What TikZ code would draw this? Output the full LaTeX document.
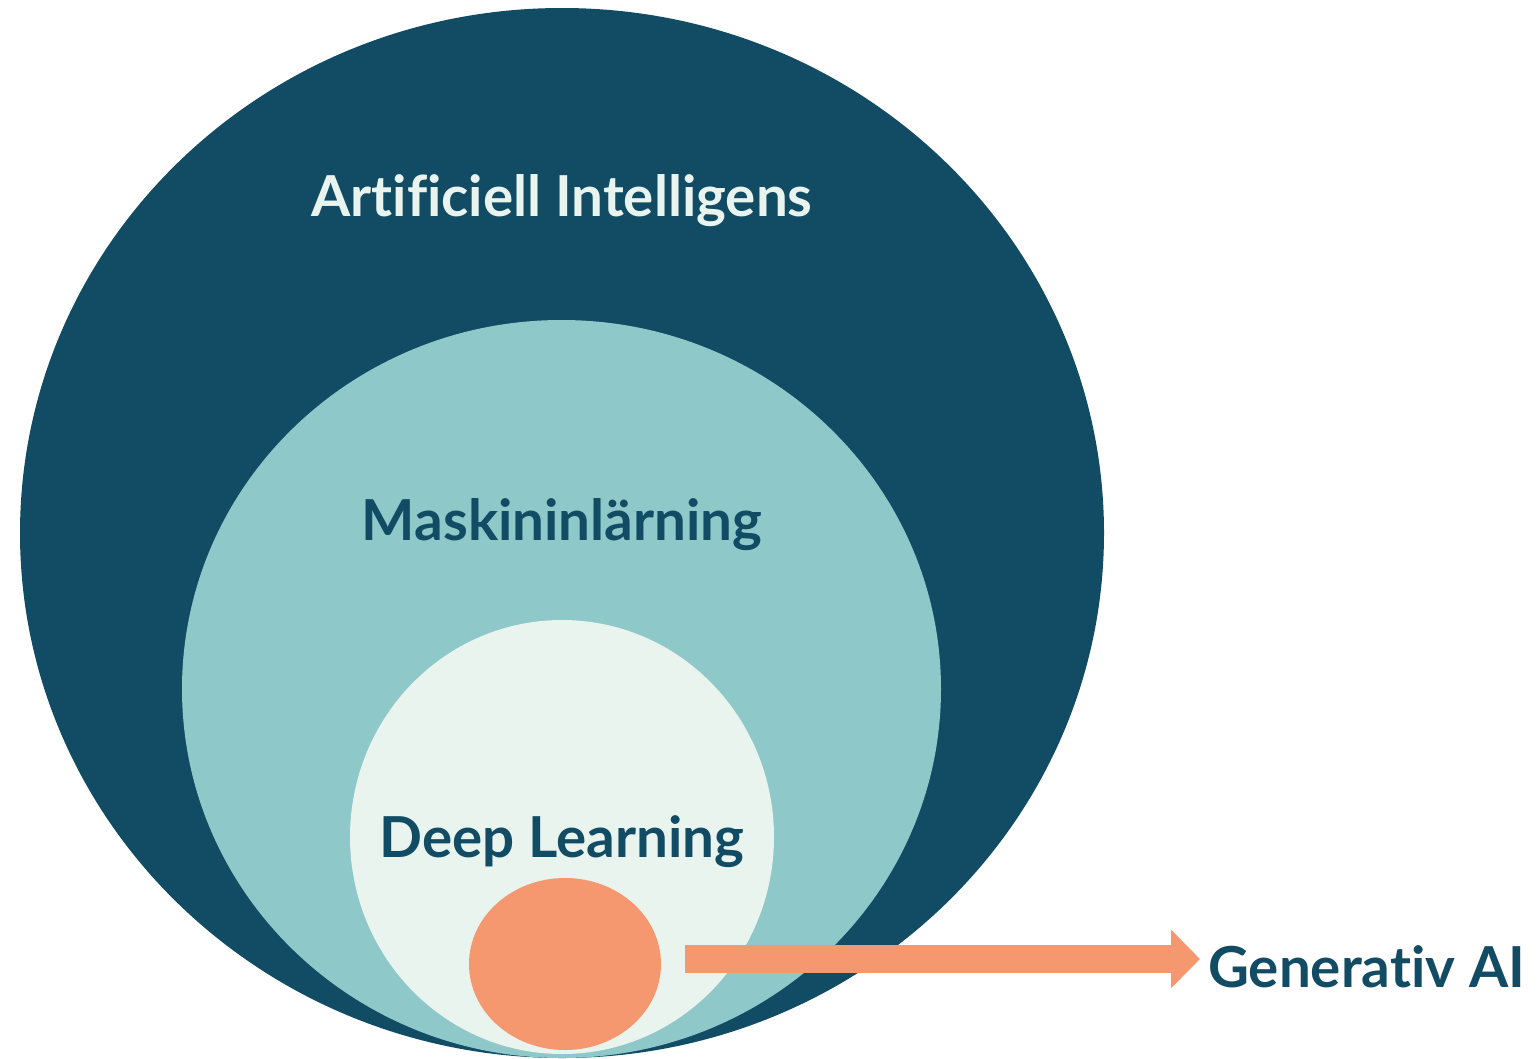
\documentclass[tikz,border=0pt]{standalone}
\usepackage{fontspec}
\setmainfont{Lato}[Ligatures=NoCommon]
\usetikzlibrary{shapes.geometric,arrows.meta}
\definecolor{darkteal}{HTML}{114C64}
\definecolor{midteal}{HTML}{8EC8C8}
\definecolor{paleteal}{HTML}{E9F4EF}
\definecolor{salmon}{HTML}{F59870}
\begin{document}
\begin{tikzpicture}[x=1pt,y=-1pt,
  blob/.style={ellipse, inner sep=0pt, outer sep=0pt, draw=none},
  lbl/.style={font=\fontsize{56.5}{60}\selectfont\bfseries, inner sep=0pt, anchor=base},
  pointer/.style={draw=salmon, line width=28pt, -{Triangle[length=29pt,width=57pt]}}]
\useasboundingbox (0,0) rectangle (1537,1058);
\node[blob, fill=darkteal, minimum width=1084pt, minimum height=1050pt] (ai) at (562,533) {};
\node[blob, fill=midteal, minimum width=759pt, minimum height=738pt] (ml) at (561.5,689) {};
\node[blob, fill=paleteal, minimum width=424pt, minimum height=434pt] (dl) at (562,837) {};
\node[blob, fill=salmon, minimum width=192pt, minimum height=172pt] (gen) at (565,964) {};
\node[lbl, text=paleteal] (tai) at (562,216) {Artificiell Intelligens};
\node[lbl, text=darkteal] (tml) at (562,540) {Maskininlärning};
\node[lbl, text=darkteal] (tdl) at (562,857) {Deep Learning};
\node[lbl, text=darkteal, anchor=base west] (gai) at (1208,987) {Generativ AI};
\coordinate (a0) at ([xshift=24pt,yshift=5pt]gen.east);
\draw[pointer] (a0) -- ([xshift=-8pt]a0 -| gai.west);
\end{tikzpicture}
\end{document}
